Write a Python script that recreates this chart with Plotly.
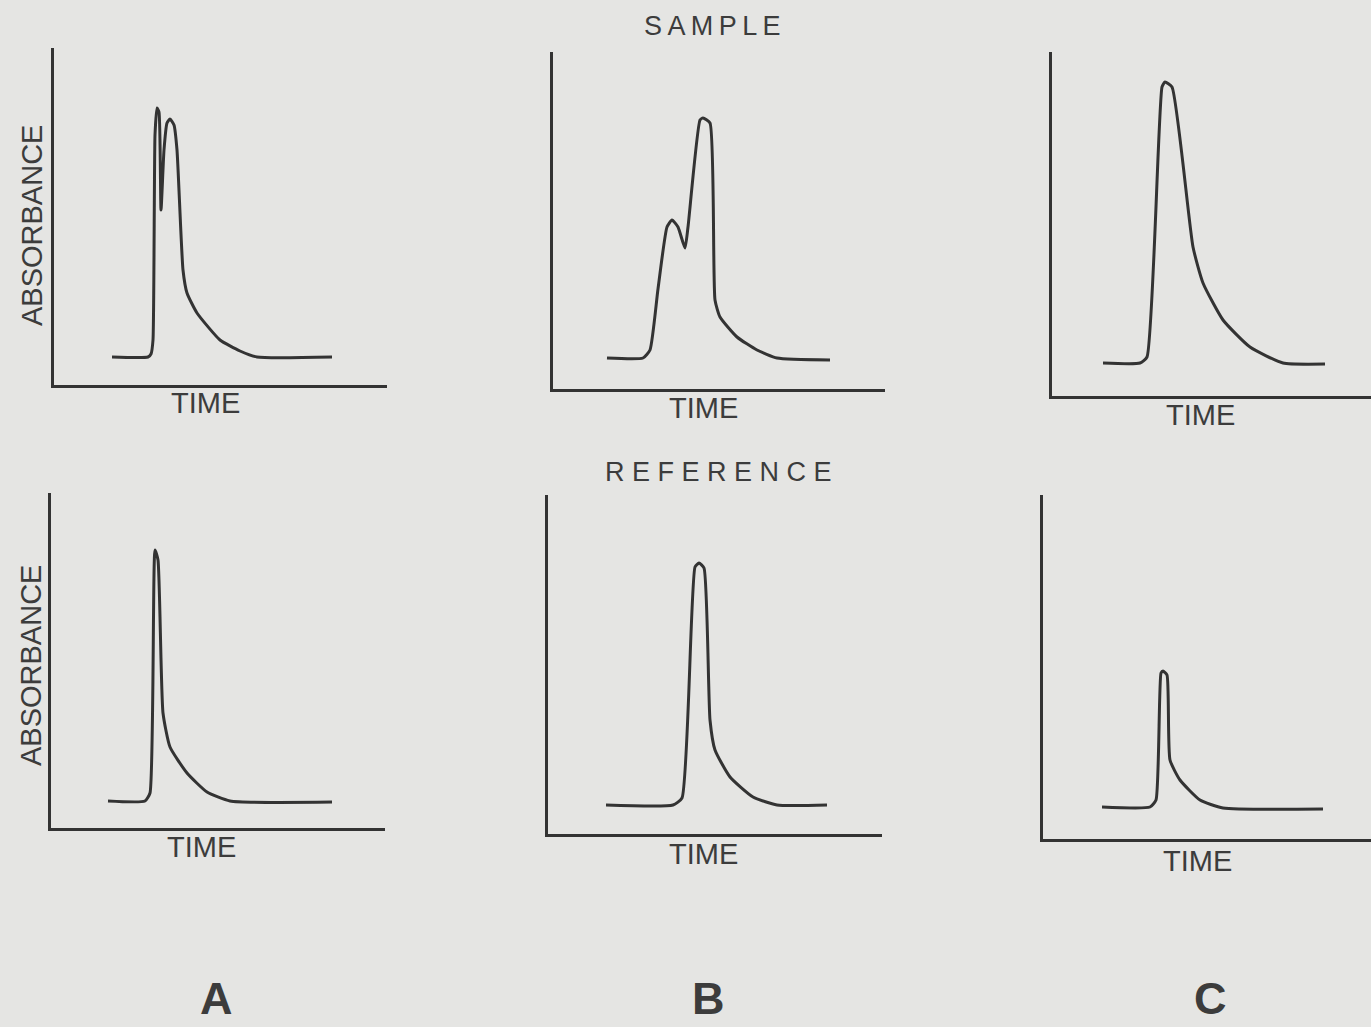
import plotly.graph_objects as go

FIG_W, FIG_H = 1371, 1027

# ---- data (arbitrary time / absorbance units) ----
sample_a_time = [58, 94, 97, 99, 101, 103, 105, 107, 110, 113, 116, 120, 123, 129, 133, 143, 166, 186, 203, 278]
sample_a_abs = [28, 28, 31, 45, 250, 277, 273, 175, 235, 262, 266, 260, 235, 115, 92, 72, 45, 34, 28, 28]

sample_b_time = [54, 90, 97, 105, 114, 119, 125, 132, 135, 147, 150, 157, 162, 167, 184, 204, 224, 277]
sample_b_abs = [31, 31, 39, 100, 162, 169, 162, 141, 162, 269, 271, 266, 89, 72, 52, 39, 31, 29]

sample_c_time = [51, 88, 95, 110, 113, 120, 141, 151, 171, 198, 231, 273]
sample_c_abs = [33, 33, 39, 309, 314, 309, 149, 113, 76, 49, 33, 32]

ref_a_time = [57, 94, 99, 104, 107, 112, 119, 136, 156, 179, 281]
ref_a_abs = [27, 27, 35, 278, 268, 115, 81, 55, 36, 27, 26]

ref_b_time = [58, 125, 134, 147, 151, 156, 162, 167, 182, 205, 229, 279]
ref_b_abs = [29, 29, 36, 267, 271, 266, 114, 84, 57, 37, 29, 29]

ref_c_time = [59, 107, 113, 118, 120, 124, 127, 137, 157, 180, 280]
ref_c_abs = [32, 32, 39, 166, 168, 164, 79, 59, 39, 31, 30]

series = [
    (sample_a_time, sample_a_abs),
    (sample_b_time, sample_b_abs),
    (sample_c_time, sample_c_abs),
    (ref_a_time, ref_a_abs),
    (ref_b_time, ref_b_abs),
    (ref_c_time, ref_c_abs),
]

column_letters = ["A", "B", "C"]
axis_x_label = "TIME"
axis_y_label = "ABSORBANCE"
row_titles = ["S\u2009A\u2009M\u2009P\u2009L\u2009E", "R E F E R E N C E"]

# ---- layout geometry (pixels): origin x, origin y, axis width, axis height ----
panels = [
    (54, 385, 333, 337),
    (553, 389, 332, 337),
    (1052, 396, 319, 344),
    (51, 828, 334, 335),
    (548, 834, 334, 339),
    (1043, 839, 328, 344),
]

INK = "#333333"
TEXT = "#3c3c3c"
PAPER = "#e5e5e3"
FONT = "Liberation Sans, Arial, sans-serif"


def px(x):
    return x / FIG_W


def py(y):
    return 1 - y / FIG_H


fig = go.Figure()
layout = {}
for i, ((t, a), (ox, oy, w, h)) in enumerate(zip(series, panels), start=1):
    sfx = "" if i == 1 else str(i)
    fig.add_trace(go.Scatter(
        x=t, y=a, mode="lines",
        line=dict(color=INK, width=3, shape="spline", smoothing=0.5),
        xaxis="x" + sfx, yaxis="y" + sfx, showlegend=False, hoverinfo="skip",
    ))
    common = dict(showline=True, linewidth=3, linecolor=INK, showgrid=False,
                  zeroline=False, showticklabels=False, ticks="", fixedrange=True)
    layout["xaxis" + sfx] = dict(domain=[px(ox), min(1.0, px(ox + w))], range=[0, w],
                                 anchor="y" + sfx, **common)
    layout["yaxis" + sfx] = dict(domain=[py(oy), py(oy - h)], range=[0, h],
                                 anchor="x" + sfx, **common)

annotations = []


def txt(text, x, y, size, angle=0, bold=False):
    annotations.append(dict(
        text=f"<b>{text}</b>" if bold else text,
        x=px(x), y=py(y), xref="paper", yref="paper",
        xanchor="center", yanchor="middle", showarrow=False, textangle=angle,
        font=dict(family=FONT, size=size, color=TEXT),
    ))


# TIME labels
for (x, y) in [(205, 403), (703, 408), (1200, 415), (202, 847), (703, 854), (1197, 861)]:
    txt(axis_x_label, x, y, 29)
# ABSORBANCE labels
txt(axis_y_label, 32, 226, 29, angle=-90)
txt(axis_y_label, 31, 666, 29, angle=-90)
# row titles
txt(row_titles[0], 712, 26, 27)
txt(row_titles[1], 718, 472, 27)
# column letters
for letter, (x, y) in zip(column_letters, [(217, 998), (708, 998), (1210, 998)]):
    txt(letter, x, y, 45, bold=True)

fig.update_layout(
    width=FIG_W, height=FIG_H,
    margin=dict(l=0, r=0, t=0, b=0),
    paper_bgcolor=PAPER, plot_bgcolor="rgba(0,0,0,0)",
    annotations=annotations,
    **layout,
)

fig.write_html("out.html")
